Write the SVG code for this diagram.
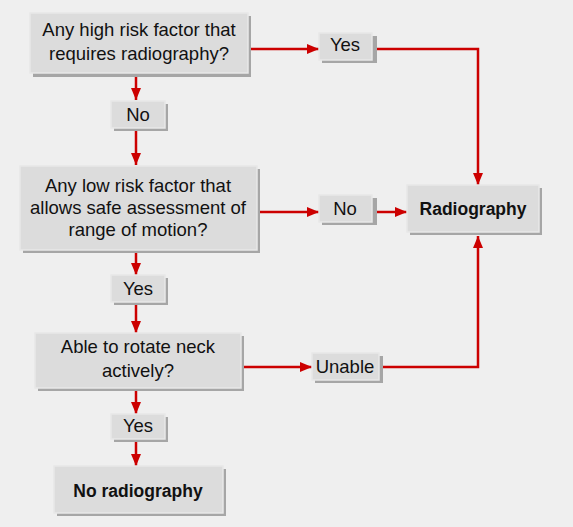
<svg xmlns="http://www.w3.org/2000/svg" width="573" height="527" viewBox="0 0 573 527">
<defs>
<marker id="ah" markerWidth="12" markerHeight="10" refX="12" refY="5" orient="auto" markerUnits="userSpaceOnUse">
<path d="M0,0 L12,5 L0,10 Z" fill="#cc0000"/>
</marker>
<style>
.sh{fill:#a6a6a6;}
.bx{fill:#dcdcdc;stroke:#e8e8e8;stroke-width:1.5;}
.t{font-family:"Liberation Sans",Arial,sans-serif;font-size:18.5px;fill:#111;text-anchor:middle;}
.b{font-weight:bold;font-size:17.5px;}
.c{fill:none;stroke:#cc0000;stroke-width:2.5;}
</style>
</defs>
<rect width="573" height="527" fill="#efefef"/>
<g id="connectors">
<path class="c" d="M136,77 V100" marker-end="url(#ah)"/>
<path class="c" d="M136,131 V165" marker-end="url(#ah)"/>
<path class="c" d="M136,253 V275" marker-end="url(#ah)"/>
<path class="c" d="M136,305 V333" marker-end="url(#ah)"/>
<path class="c" d="M136,391 V414" marker-end="url(#ah)"/>
<path class="c" d="M136,442 V466" marker-end="url(#ah)"/>
<path class="c" d="M251,49 H319" marker-end="url(#ah)"/>
<path class="c" d="M377,49 H478 V185" marker-end="url(#ah)"/>
<path class="c" d="M260,212 H319" marker-end="url(#ah)"/>
<path class="c" d="M377,212 H407" marker-end="url(#ah)"/>
<path class="c" d="M244,367 H312" marker-end="url(#ah)"/>
<path class="c" d="M383,367 H478 V236" marker-end="url(#ah)"/>
</g>
<g id="q1">
<rect class="sh" x="33" y="16" width="218" height="61"/>
<rect class="bx" x="30" y="13" width="218" height="60"/>
<text class="t" x="139" y="36">Any high risk factor that</text>
<text class="t" x="139" y="60">requires radiography?</text>
</g>
<g id="no1">
<rect class="sh" x="114" y="104" width="54" height="27"/>
<rect class="bx" x="111" y="101" width="54" height="27"/>
<text class="t" x="138" y="121">No</text>
</g>
<g id="q2">
<rect class="sh" x="23" y="169" width="237" height="84"/>
<rect class="bx" x="20" y="166" width="237" height="84"/>
<text class="t" x="138" y="192">Any low risk factor that</text>
<text class="t" x="138" y="214">allows safe assessment of</text>
<text class="t" x="138" y="236">range of motion?</text>
</g>
<g id="yes1">
<rect class="sh" x="114" y="278" width="54" height="27"/>
<rect class="bx" x="111" y="275" width="54" height="27"/>
<text class="t" x="138" y="295">Yes</text>
</g>
<g id="q3">
<rect class="sh" x="38" y="336" width="206" height="55"/>
<rect class="bx" x="35" y="333" width="206" height="55"/>
<text class="t" x="138" y="353">Able to rotate neck</text>
<text class="t" x="138" y="377">actively?</text>
</g>
<g id="yes2">
<rect class="sh" x="114" y="417" width="54" height="25"/>
<rect class="bx" x="111" y="414" width="54" height="25"/>
<text class="t" x="138" y="432">Yes</text>
</g>
<g id="norad">
<rect class="sh" x="57" y="469" width="169" height="47"/>
<rect class="bx" x="54" y="466" width="169" height="47"/>
<text class="t b" x="138" y="497">No radiography</text>
</g>
<g id="yes0">
<rect class="sh" x="322" y="36" width="55" height="27"/>
<rect class="bx" x="319" y="33" width="53" height="27"/>
<text class="t" x="345" y="51">Yes</text>
</g>
<g id="no2">
<rect class="sh" x="322" y="198" width="55" height="27"/>
<rect class="bx" x="319" y="195" width="53" height="27"/>
<text class="t" x="345" y="215">No</text>
</g>
<g id="unable">
<rect class="sh" x="315" y="356" width="68" height="27"/>
<rect class="bx" x="312" y="353" width="67" height="27"/>
<text class="t" x="345" y="373">Unable</text>
</g>
<g id="rad">
<rect class="sh" x="410" y="188" width="132" height="47"/>
<rect class="bx" x="407" y="185" width="132" height="47"/>
<text class="t b" x="473" y="215">Radiography</text>
</g>
</svg>
